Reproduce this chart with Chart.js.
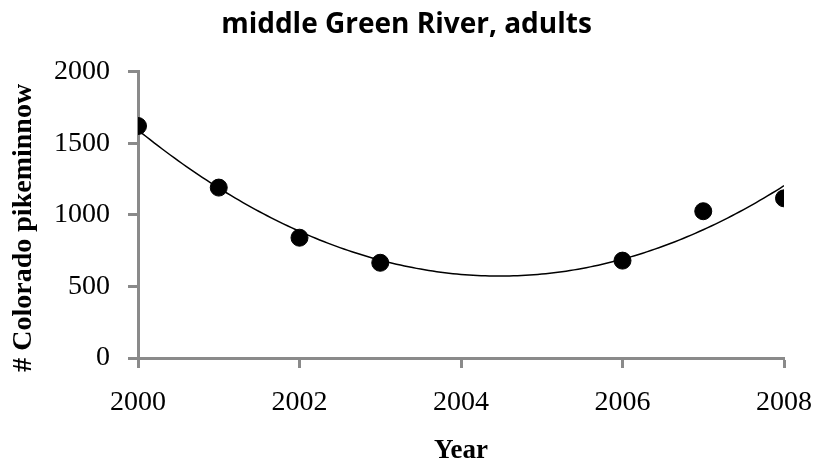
<!DOCTYPE html>
<html>
<head>
<meta charset="utf-8">
<script src="https://cdn.jsdelivr.net/npm/chart.js@4/dist/chart.umd.min.js"></script>
<style>
  html, body { margin: 0; padding: 0; background: #fff; }
  #wrap { width: 813px; height: 467px; position: relative; }
</style>
</head>
<body>
<div id="wrap"><canvas id="chart" width="813" height="467"></canvas></div>
<script>
// Adult Colorado pikeminnow abundance estimates, middle Green River
const years = [2000, 2001, 2002, 2003, 2006, 2007, 2008];
const counts = [1620, 1190, 840, 665, 680, 1025, 1115];
const xTicks = [2000, 2002, 2004, 2006, 2008];
const yTicks = [0, 500, 1000, 1500, 2000];
const yAxisTitle = '# Colorado pikeminnow';

// Second-order polynomial trend (least squares), as a spreadsheet trendline would
function quadFit(xs, ys) {
  const x0 = xs[0];
  const s = [0, 0, 0, 0, 0], t = [0, 0, 0];
  xs.forEach((xv, i) => {
    const u = xv - x0;
    for (let k = 0; k <= 4; k++) s[k] += Math.pow(u, k);
    for (let k = 0; k <= 2; k++) t[k] += ys[i] * Math.pow(u, k);
  });
  const M = [[s[0], s[1], s[2], t[0]], [s[1], s[2], s[3], t[1]], [s[2], s[3], s[4], t[2]]];
  for (let c = 0; c < 3; c++) {
    for (let r = c + 1; r < 3; r++) {
      const f = M[r][c] / M[c][c];
      for (let k = c; k < 4; k++) M[r][k] -= f * M[c][k];
    }
  }
  const coef = [0, 0, 0];
  for (let r = 2; r >= 0; r--) {
    let v = M[r][3];
    for (let k = r + 1; k < 3; k++) v -= M[r][k] * coef[k];
    coef[r] = v / M[r][r];
  }
  return u => coef[0] + coef[1] * (u - x0) + coef[2] * (u - x0) * (u - x0);
}
const trend = quadFit(years, counts);
const trendPts = [];
for (let i = 0; i <= 160; i++) {
  const xv = years[0] + (years[years.length - 1] - years[0]) * i / 160;
  trendPts.push({ x: xv, y: trend(xv) });
}

const axisGray = '#8a8a8a';
const serif = "'Liberation Serif', 'Times New Roman', serif";

// Vertical axis title, drawn beside the y scale and a little below its middle
const yTitlePlugin = {
  id: 'yTitle',
  afterDraw(chart) {
    const y = chart.scales.y;
    const ctx = chart.ctx;
    ctx.save();
    ctx.translate(24, (y.top + y.bottom) / 2 + 13);
    ctx.rotate(-Math.PI / 2);
    ctx.font = "bold 28px " + serif;
    ctx.fillStyle = '#000';
    ctx.textAlign = 'center';
    ctx.textBaseline = 'middle';
    ctx.fillText(yAxisTitle, 0, 0);
    ctx.restore();
  }
};

new Chart(document.getElementById('chart'), {
  type: 'scatter',
  data: {
    datasets: [
      {
        label: 'Adults',
        data: years.map((y, i) => ({ x: y, y: counts[i] })),
        backgroundColor: '#000',
        borderColor: '#000',
        pointRadius: 8.5,
        pointHoverRadius: 8.5,
        order: 1
      },
      {
        label: 'Poly. (Adults)',
        data: trendPts,
        showLine: true,
        borderColor: '#000',
        borderWidth: 1.5,
        pointRadius: 0,
        tension: 0,
        order: 2
      }
    ]
  },
  plugins: [yTitlePlugin],
  options: {
    responsive: false,
    animation: false,
    events: [],
    layout: { padding: { left: 0, right: 0, top: 0, bottom: 0 } },
    plugins: {
      legend: { display: false },
      tooltip: { enabled: false },
      title: {
        display: true,
        text: 'middle Green River, adults',
        color: '#000',
        font: { family: "'Open Sans', sans-serif", size: 28, weight: 'bold', lineHeight: 1.2 },
        padding: { top: 8, bottom: 30 }
      }
    },
    scales: {
      x: {
        type: 'linear',
        min: 2000,
        max: 2008,
        afterBuildTicks: s => { s.ticks = xTicks.map(v => ({ value: v })); },
        afterFit: s => { s.height = 109; s.paddingRight = 29; s.paddingLeft = 0; },
        border: { display: true, color: axisGray, width: 3 },
        grid: { display: true, drawOnChartArea: false, drawTicks: true, tickLength: 10, tickWidth: 3, tickColor: axisGray },
        ticks: { color: '#000', font: { family: serif, size: 28 }, padding: 18, maxRotation: 0, callback: v => String(v) },
        title: { display: true, text: 'Year', color: '#000', font: { family: serif, size: 27, weight: 'bold', lineHeight: 1.0 }, padding: { top: 0, bottom: 2 } }
      },
      y: {
        min: 0,
        max: 2000,
        afterBuildTicks: s => { s.ticks = yTicks.map(v => ({ value: v })); },
        afterFit: s => { s.width = 138; },
        border: { display: true, color: axisGray, width: 3 },
        grid: { display: true, drawOnChartArea: false, drawTicks: true, tickLength: 10, tickWidth: 3, tickColor: axisGray },
        ticks: { color: '#000', font: { family: serif, size: 28 }, padding: 18, callback: v => String(v) }
      }
    }
  }
});
</script>
</body>
</html>
